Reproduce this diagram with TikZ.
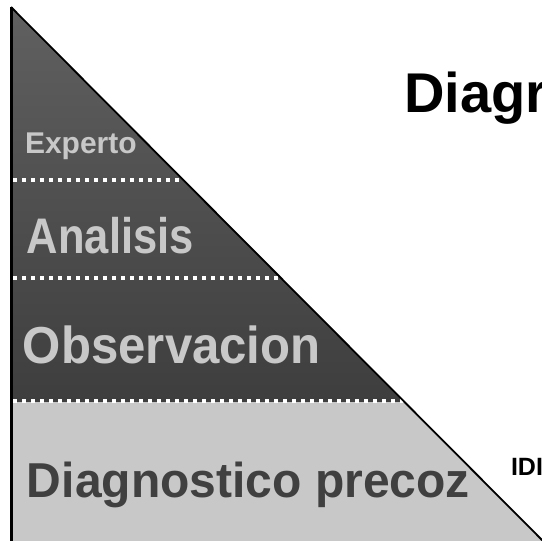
\documentclass[tikz,border=0pt]{standalone}
\usepackage{fontspec}
\setmainfont{Liberation Sans}
\definecolor{darktop}{HTML}{606060}
\definecolor{darkbot}{HTML}{3E3E3E}
\definecolor{lightband}{HTML}{C8C8C8}
\definecolor{lighttext}{HTML}{C8C8C8}
\definecolor{darktext}{HTML}{404040}
\tikzset{
  lbl/.style={anchor=base west, inner sep=0pt, outer sep=0pt},
  sep/.style={white, line width=4pt, dash pattern=on 4pt off 5pt},
}
\begin{document}
\begin{tikzpicture}[x=1pt,y=-1pt]
\useasboundingbox (0,0) rectangle (542,541);
\coordinate (apex) at (11,7);
\coordinate (bl) at (11,541);
\coordinate (br) at (543,541);
\coordinate (s3l) at (13,401);
\coordinate (s3r) at (404.5,401);
\coordinate (s2l) at (13,278);
\coordinate (s2r) at (281,278);
\coordinate (s1l) at (13,180);
\coordinate (s1r) at (183,180);
% dark part with gradient
\fill[top color=darktop, bottom color=darkbot] (apex) -- (404.5,402) -- (11,402) -- cycle;
% light band
\fill[lightband] (11,402) -- (404.5,402) -- (br) -- (bl) -- cycle;
% separators
\draw[sep] (s1l) -- (s1r);
\draw[sep] (s2l) -- (s2r);
\draw[sep] (s3l) -- (s3r);
% borders
\draw[line width=3pt] (apex) -- (bl);
\draw[line width=1.8pt] (apex) -- (br);
% labels
\node[lbl, lighttext, font=\fontsize{30}{30}\selectfont\bfseries] (exp) at (25,153) {Experto};
\node[lbl, lighttext, font=\fontsize{50}{50}\selectfont\bfseries] (ana) at (27,253) {\scalebox{0.87}[1]{Analisis}};
\node[lbl, lighttext, font=\fontsize{52}{52}\selectfont\bfseries] (obs) at (23,363) {\scalebox{0.945}[1]{Observacion}};
\node[lbl, darktext, font=\fontsize{49}{49}\selectfont\bfseries] (dia) at (27,497) {\scalebox{0.98}[1]{Diagnostico precoz}};
\node[lbl, font=\fontsize{56}{56}\selectfont\bfseries] (title) at (404,112) {Diagr};
\node[lbl, font=\fontsize{25}{25}\selectfont\bfseries] (idi) at (511,475) {IDI};
\end{tikzpicture}
\end{document}
